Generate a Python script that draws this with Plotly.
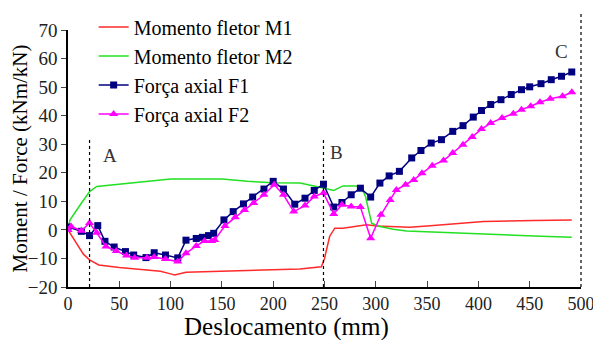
import plotly.graph_objects as go

# ---- data ----
m1_x = [0, 5, 10, 15, 21, 30, 50, 75, 90, 100, 104, 115, 150, 200, 226, 247, 250, 255, 260, 268, 291, 301, 323, 333, 350, 372, 405, 454, 491]
m1_y = [0, -3, -6, -8.5, -10.5, -12.3, -13.2, -14, -14.5, -15.4, -15.8, -14.8, -14.5, -14, -13.7, -12.9, -10, -2.3, 0.6, 0.6, 1.8, 1.4, 0.9, 0.9, 1.4, 2.1, 2.9, 3.3, 3.5]

m2_x = [0, 2, 12, 21, 28, 50, 75, 100, 150, 175, 200, 226, 250, 259, 268, 285, 290, 296, 304, 317, 330, 356, 405, 454, 491]
m2_y = [0.3, 3.5, 8.8, 13.4, 15.2, 16, 17, 17.8, 17.8, 17, 16.5, 16.4, 14.6, 13.8, 15.4, 15.4, 11.7, 2.3, 1.2, 0.2, -0.4, -0.8, -1.5, -2.1, -2.6]

f1_x = [0, 13, 21, 29, 36, 45, 56, 64, 76, 84, 95, 107, 115, 125, 131, 137, 142, 152, 161, 171, 180, 191, 200, 210, 221, 231, 240, 249, 259, 267, 276, 285, 295, 304, 313, 323, 335, 344, 354, 364, 375, 385, 395, 403, 412, 422, 432, 442, 450, 461, 471, 481, 491]
f1_y = [1, -0.5, -2, 1.5, -4, -6, -7.6, -8.8, -9.7, -8, -8.8, -9.8, -3.6, -3, -2.6, -2, -1.2, 3.5, 6.4, 9.1, 11.5, 14.3, 17, 14.3, 9, 11.1, 13.8, 16, 8, 9.6, 12.3, 14.6, 11.5, 16.4, 18.9, 20.5, 25.2, 27.8, 30.4, 31.6, 34.5, 36.5, 39.5, 41.8, 43.9, 45.6, 47.4, 49.1, 50.1, 51.2, 52.6, 53.8, 55.3]

f2_x = [0, 3, 13, 21, 28, 37, 47, 57, 65, 77, 84, 95, 107, 115, 125, 133, 140, 143, 153, 163, 172, 181, 191, 201, 210, 220, 231, 240, 249, 259, 267, 276, 285, 295, 305, 314, 320, 329, 337, 345, 355, 366, 375, 385, 394, 403, 412, 423, 434, 442, 451, 460, 470, 482, 491]
f2_y = [0, 1.2, -0.3, 2.4, -1, -5.8, -7.4, -9, -9.8, -9.8, -9.5, -10.2, -11.1, -8.2, -5.6, -3.9, -3.9, -3.5, 1.4, 4.4, 7, 9.4, 12.3, 15.8, 12.3, 6.4, 8.5, 11.7, 12.9, 5.6, 8.8, 8.2, 8, -2.9, 5.3, 10.5, 14, 15.8, 17.5, 19.8, 22.5, 24.3, 26.9, 29.8, 32.5, 35.3, 37.4, 39.2, 40.7, 42.1, 43.3, 44.7, 45.9, 46.8, 48.2]

x_ticks = [0, 50, 100, 150, 200, 250, 300, 350, 400, 450, 500]
y_ticks = [-20, -10, 0, 10, 20, 30, 40, 50, 60, 70]

marker_lines = {"A": 21, "B": 249}
labels = [("A", 41, 26), ("B", 262, 27), ("C", 481, 62.5)]

FONT = "Liberation Serif, Times New Roman, serif"

fig = go.Figure()
fig.add_trace(go.Scatter(x=m1_x, y=m1_y, mode="lines", name="Momento fletor M1", legendgroup="a",
                         line=dict(color="#ff2a2a", width=1.5)))
fig.add_trace(go.Scatter(x=m2_x, y=m2_y, mode="lines", name="Momento fletor M2", legendgroup="b",
                         line=dict(color="#22e022", width=1.5)))
fig.add_trace(go.Scatter(x=f1_x, y=f1_y, mode="lines+markers", name="Força axial F1", legendgroup="c",
                         line=dict(color="#000080", width=1.5),
                         marker=dict(symbol="square", size=7, color="#000080")))
fig.add_trace(go.Scatter(x=f2_x, y=f2_y, mode="lines+markers", name="Força axial F2", legendgroup="d",
                         line=dict(color="#ff00ff", width=1.5),
                         marker=dict(symbol="triangle-up", size=8, color="#ff00ff")))

for name, xv in marker_lines.items():
    fig.add_shape(type="line", xref="x", yref="y", x0=xv, x1=xv, y0=-20, y1=31.5,
                  line=dict(color="black", width=1.2, dash="dot"))
fig.add_shape(type="line", xref="paper", yref="paper", x0=1, x1=1, y0=0, y1=1.065,
              line=dict(color="black", width=1.2, dash="dot"))

for t, xv, yv in labels:
    fig.add_annotation(x=xv, y=yv, text=t, showarrow=False,
                       font=dict(family=FONT, size=19, color="#333333"))

# x-axis title, placed left of centre as in the reference
fig.add_annotation(xref="paper", yref="paper", x=0.425, y=-0.156, xanchor="center", yanchor="middle",
                   text="Deslocamento (mm)", showarrow=False,
                   font=dict(family=FONT, size=25, color="black"))

# the page body adds an 8px offset, so the figure is drawn 8px smaller
fig.update_layout(
    width=593, height=332,
    margin=dict(l=60, r=20, t=22, b=53, autoexpand=False),
    paper_bgcolor="white", plot_bgcolor="white",
    font=dict(family=FONT, color="black"),
    showlegend=True,
    legend=dict(x=0.05, y=1.088, xanchor="left", yanchor="top",
                bgcolor="rgba(0,0,0,0)", font=dict(family=FONT, size=20),
                tracegroupgap=0, itemwidth=30),
)
fig.update_xaxes(range=[0, 500], tickvals=x_ticks, ticks="inside", ticklen=6,
                 showline=True, linecolor="black", linewidth=1.5, showgrid=False, zeroline=False,
                 tickfont=dict(family=FONT, size=18, color="#222"))
fig.update_yaxes(range=[-20, 70], tickvals=y_ticks, ticks="outside", ticklen=5,
                 showline=True, linecolor="black", linewidth=1.5, showgrid=False, zeroline=False,
                 tickfont=dict(family=FONT, size=19, color="#222"),
                 title=dict(text="Moment / Force (kNm/kN)", font=dict(family=FONT, size=21), standoff=2))

fig.write_html("out.html")
